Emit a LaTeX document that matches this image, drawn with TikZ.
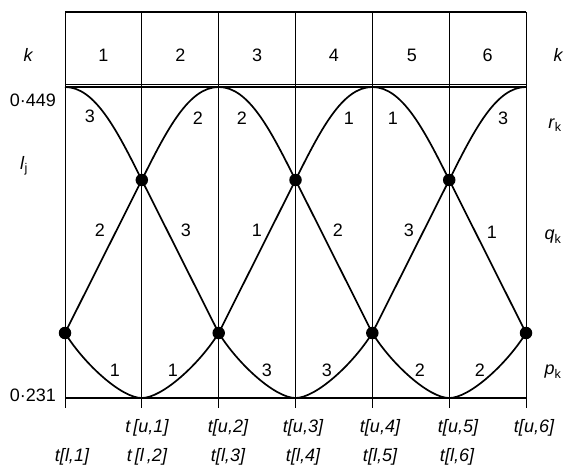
\documentclass[tikz,border=0pt]{standalone}
\usepackage{fontspec}
\setmainfont{Liberation Sans}
\begin{document}
\begin{tikzpicture}[x=1pt,y=-1pt,
  gridline/.style={line width=0.7pt},
  frameline/.style={line width=1.2pt},
  curve/.style={line width=1.7pt},
  dot/.style={circle,fill,inner sep=0pt,minimum size=12.5pt},
  lab/.style={font=\fontsize{18}{20}\selectfont,inner sep=0pt},
  tlab/.style={font=\fontsize{18}{20}\selectfont\itshape,inner sep=0pt}]
\useasboundingbox (0,0) rectangle (565,468);
% columns
\def\xa{65}\def\xb{141.8}\def\xc{218.7}\def\xd{295.5}\def\xe{372.3}\def\xf{449.2}\def\xg{526}
% grid
\foreach \x in {\xa,\xb,\xc,\xd,\xe,\xf,\xg}
  \draw[gridline] (\x,12) -- (\x,408);
\draw[frameline] (\xa,12) -- (\xg,12);
\draw[gridline] (\xa,84) -- (\xg,84);
\draw[frameline] (\xa,87) -- (\xg,87);
\draw[frameline] (\xa,398) -- (\xg,398);
% points
\coordinate (T0) at (\xa,87);
\coordinate (T2) at (\xc,87);
\coordinate (T4) at (\xe,87);
\coordinate (T6) at (\xg,87);
\coordinate (B1) at (\xb,398);
\coordinate (B3) at (\xd,398);
\coordinate (B5) at (\xf,398);
\node[dot] (d0) at (\xa,333) {};
\node[dot] (d1) at (\xb,180) {};
\node[dot] (d2) at (\xc,333) {};
\node[dot] (d3) at (\xd,180) {};
\node[dot] (d4) at (\xe,333) {};
\node[dot] (d5) at (\xf,180) {};
\node[dot] (d6) at (\xg,333) {};
% top arcs
\draw[curve] (T0) .. controls +(30,0) and +(-25,-50) .. (d1.center);
\draw[curve] (d1.center) .. controls +(25,-50) and +(-30,0) .. (T2);
\draw[curve] (T2) .. controls +(30,0) and +(-25,-50) .. (d3.center);
\draw[curve] (d3.center) .. controls +(25,-50) and +(-30,0) .. (T4);
\draw[curve] (T4) .. controls +(30,0) and +(-25,-50) .. (d5.center);
\draw[curve] (d5.center) .. controls +(25,-50) and +(-30,0) .. (T6);
% bottom arcs
\draw[curve] (d0.center) .. controls +(20,32) and +(-20,0) .. (B1);
\draw[curve] (B1) .. controls +(20,0) and +(-20,32) .. (d2.center);
\draw[curve] (d2.center) .. controls +(20,32) and +(-20,0) .. (B3);
\draw[curve] (B3) .. controls +(20,0) and +(-20,32) .. (d4.center);
\draw[curve] (d4.center) .. controls +(20,32) and +(-20,0) .. (B5);
\draw[curve] (B5) .. controls +(20,0) and +(-20,32) .. (d6.center);
% straight lines
\draw[curve] (d0.center) -- (d1.center) -- (d2.center) -- (d3.center) -- (d4.center) -- (d5.center) -- (d6.center);
% header
\node[tlab] (kl) at (28,55) {k};
\node[tlab] (kr) at (558,55) {k};
\node[lab] (h1) at (103.4,55) {1};
\node[lab] (h2) at (180.3,55) {2};
\node[lab] (h3) at (257.1,55) {3};
\node[lab] (h4) at (333.9,55) {4};
\node[lab] (h5) at (412,55) {5};
\node[lab] (h6) at (487.6,55) {6};
% left axis labels
\node[lab,anchor=east] (vtop) at (56,100) {0·449};
\node[lab,anchor=east] (vbot) at (56,395) {0·231};
\node[lab] (lj) at (24,166) {\textit{l}\textsubscript{j}};
% right labels
\node[lab] (rk) at (555,125) {\textit{r}\textsubscript{k}};
\node[lab] (qk) at (553,237) {\textit{q}\textsubscript{k}};
\node[lab] (pk) at (553,372) {\textit{p}\textsubscript{k}};
% curve labels: top arcs
\node[lab] at (90,116) {3};
\node[lab] at (198,118) {2};
\node[lab] at (242,118) {2};
\node[lab] at (349,118) {1};
\node[lab] at (393,118) {1};
\node[lab] at (503,118) {3};
% lines
\node[lab] at (100,230) {2};
\node[lab] at (186,230) {3};
\node[lab] at (257,230) {1};
\node[lab] at (338,230) {2};
\node[lab] at (409,230) {3};
\node[lab] at (492,232) {1};
% bottom arcs
\node[lab] at (115,370) {1};
\node[lab] at (173,370) {1};
\node[lab] at (267,370) {3};
\node[lab] at (327,370) {3};
\node[lab] at (420,370) {2};
\node[lab] at (480,370) {2};
% time labels
\node[tlab] (tu1) at (147,428) {t\,[u,1]};
\node[tlab] (tu2) at (228,428) {t[u,2]};
\node[tlab] (tu3) at (303,428) {t[u,3]};
\node[tlab] (tu4) at (380,428) {t[u,4]};
\node[tlab] (tu5) at (458,428) {t[u,5]};
\node[tlab] (tu6) at (534,428) {t[u,6]};
\node[tlab] (tl1) at (72,457) {t[l,1]};
\node[tlab] (tl2) at (147,457) {t\,[l\,,2]};
\node[tlab] (tl3) at (228,457) {t[l,3]};
\node[tlab] (tl4) at (303,457) {t[l,4]};
\node[tlab] (tl5) at (380,457) {t[l,5]};
\node[tlab] (tl6) at (457,457) {t[l,6]};
\end{tikzpicture}
\end{document}
